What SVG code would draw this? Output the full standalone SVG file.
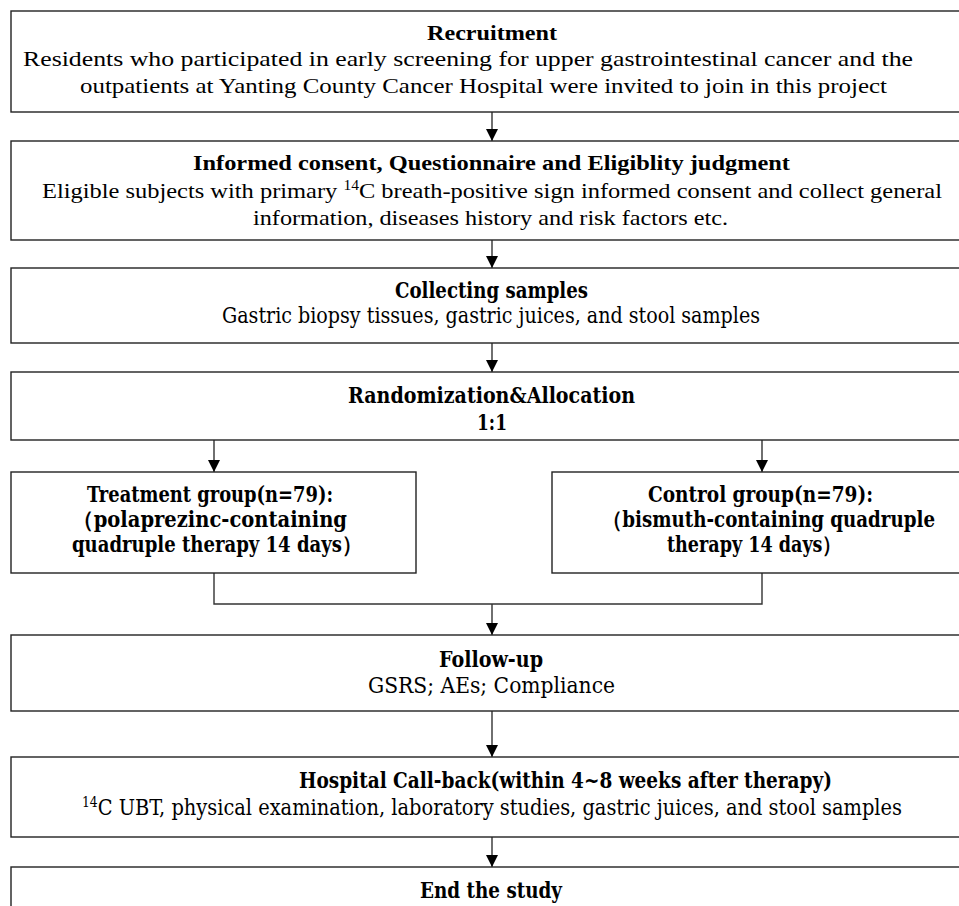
<svg xmlns="http://www.w3.org/2000/svg" width="959" height="906" viewBox="0 0 959 906">
<defs>
<marker id="ah" markerWidth="12" markerHeight="12" refX="12" refY="6" orient="auto" markerUnits="userSpaceOnUse">
<path d="M0,0 L12,6 L0,12 Z" fill="#000"/>
</marker>
<style>
.box{fill:#fff;stroke:#222;stroke-width:1.4}
.ln{fill:none;stroke:#333;stroke-width:1.4}
.t{font-family:"Liberation Serif","Times New Roman",serif;font-size:22px;fill:#000}
.tb{font-family:"Liberation Serif","Times New Roman",serif;font-size:21px;font-weight:bold;fill:#000}
.c{font-family:"DejaVu Serif Condensed","DejaVu Serif",serif;font-stretch:condensed;font-size:22px;fill:#000}
.cb{font-family:"DejaVu Serif Condensed","DejaVu Serif",serif;font-stretch:condensed;font-size:22px;font-weight:bold;fill:#000}
.sup{font-size:14px}
</style>
</defs>
<g id="connectors">
<path class="ln" d="M492,112 V141" marker-end="url(#ah)"/>
<path class="ln" d="M492,240 V268" marker-end="url(#ah)"/>
<path class="ln" d="M492,343 V372" marker-end="url(#ah)"/>
<path class="ln" d="M214,440 V472" marker-end="url(#ah)"/>
<path class="ln" d="M762,440 V472" marker-end="url(#ah)"/>
<path class="ln" d="M214,573 V604 H762 V573"/>
<path class="ln" d="M492,604 V635" marker-end="url(#ah)"/>
<path class="ln" d="M492,711 V757" marker-end="url(#ah)"/>
<path class="ln" d="M492,837 V867" marker-end="url(#ah)"/>
</g>
<g id="recruitment">
<rect class="box" x="11" y="11" width="970" height="101"/>
<text class="tb" x="427" y="40" textLength="130" lengthAdjust="spacingAndGlyphs">Recruitment</text>
<text class="t" x="23" y="66" textLength="890" lengthAdjust="spacingAndGlyphs">Residents who participated in early screening for upper gastrointestinal cancer and the</text>
<text class="t" x="80" y="93" textLength="807" lengthAdjust="spacingAndGlyphs">outpatients at Yanting County Cancer Hospital were invited to join in this project</text>
</g>
<g id="consent">
<rect class="box" x="11" y="141" width="970" height="99"/>
<text class="tb" x="193" y="170" textLength="597" lengthAdjust="spacingAndGlyphs">Informed consent, Questionnaire and Eligiblity judgment</text>
<text class="t" x="42" y="198" textLength="900" lengthAdjust="spacingAndGlyphs">Eligible subjects with primary <tspan class="sup" dy="-8">14</tspan><tspan dy="8">C breath-positive sign informed consent and collect general</tspan></text>
<text class="t" x="253" y="225" textLength="475" lengthAdjust="spacingAndGlyphs">information, diseases history and risk factors etc.</text>
</g>
<g id="samples">
<rect class="box" x="11" y="268" width="970" height="75"/>
<text class="cb" x="395" y="298" textLength="193" lengthAdjust="spacingAndGlyphs">Collecting samples</text>
<text class="c" x="222" y="323" textLength="538" lengthAdjust="spacingAndGlyphs">Gastric biopsy tissues, gastric juices, and stool samples</text>
</g>
<g id="randomization">
<rect class="box" x="11" y="372" width="970" height="68"/>
<text class="cb" x="348" y="403" textLength="287" lengthAdjust="spacingAndGlyphs">Randomization&amp;Allocation</text>
<text class="cb" x="477" y="430" textLength="30" lengthAdjust="spacingAndGlyphs">1:1</text>
</g>
<g id="treatment">
<rect class="box" x="11" y="472" width="405" height="101"/>
<text class="cb" x="87" y="502" textLength="246" lengthAdjust="spacingAndGlyphs">Treatment group(n=79):</text>
<text class="cb" x="72" y="527" textLength="275" lengthAdjust="spacingAndGlyphs">（polaprezinc-containing</text>
<text class="cb" x="72" y="552" textLength="290" lengthAdjust="spacingAndGlyphs">quadruple therapy 14 days）</text>
</g>
<g id="control">
<rect class="box" x="552" y="472" width="430" height="101"/>
<text class="cb" x="648" y="502" textLength="225" lengthAdjust="spacingAndGlyphs">Control group(n=79):</text>
<text class="cb" x="602" y="527" textLength="333" lengthAdjust="spacingAndGlyphs">（bismuth-containing quadruple</text>
<text class="cb" x="667" y="552" textLength="175" lengthAdjust="spacingAndGlyphs">therapy 14 days）</text>
</g>
<g id="followup">
<rect class="box" x="11" y="635" width="970" height="76"/>
<text class="cb" x="439" y="667" textLength="104" lengthAdjust="spacingAndGlyphs">Follow-up</text>
<text class="c" x="368" y="693" textLength="247" lengthAdjust="spacingAndGlyphs">GSRS; AEs; Compliance</text>
</g>
<g id="callback">
<rect class="box" x="11" y="757" width="970" height="80"/>
<text class="cb" x="299" y="788" textLength="533" lengthAdjust="spacingAndGlyphs">Hospital Call-back(within 4~8 weeks after therapy)</text>
<text class="c" x="82" y="815" textLength="820" lengthAdjust="spacingAndGlyphs"><tspan class="sup" dy="-8">14</tspan><tspan dy="8">C UBT, physical examination, laboratory studies, gastric juices, and stool samples</tspan></text>
</g>
<g id="end">
<rect class="box" x="11" y="867" width="970" height="60"/>
<text class="cb" x="420" y="898" textLength="142" lengthAdjust="spacingAndGlyphs">End the study</text>
</g>
</svg>
